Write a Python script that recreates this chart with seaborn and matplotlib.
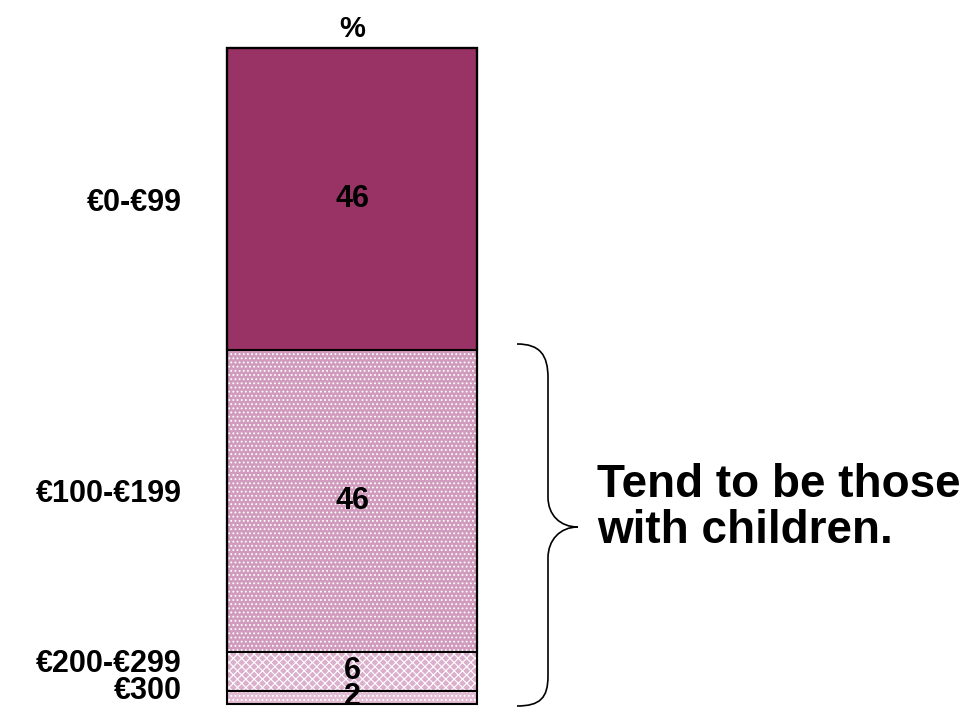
import matplotlib
matplotlib.use("Agg")
import matplotlib.pyplot as plt
from matplotlib.path import Path
from matplotlib.patches import PathPatch, Rectangle
from matplotlib.transforms import ScaledTranslation
import pandas as pd
import seaborn as sns

# Spend bands (top to bottom) and share of respondents, %
bands = ["€0-€99", "€100-€199", "€200-€299", "€300"]
shares = [46, 46, 6, 2]
face_colors = ["#993366", "#d09bbd", "#dbb0cc", "#e2bcd3"]
hatches = [None, "....", "xxxx", "...."]
label_nudge_px = [-4, 7, 7, 6]
header = "%"
note_lines = ["Tend to be those", "with children."]

sns.set_style("white")
plt.rcParams["font.family"] = ["Liberation Sans", "DejaVu Sans"]
plt.rcParams["font.weight"] = "bold"
plt.rcParams["text.color"] = "black"
plt.rcParams["axes.titlecolor"] = "black"
plt.rcParams["hatch.linewidth"] = 0.8

# Running totals: each band is drawn from 0 down to its cumulative share,
# the widest first so that the upper bands cover the lower ones.
cum = []
total = 0
for s in shares:
    total += s
    cum.append(total)
mids = [c - s / 2 for c, s in zip(cum, shares)]

df = pd.DataFrame({"col": [""] * len(bands), "band": bands, "cum": cum})
order = bands[::-1]

W, H = 968, 709
fig = plt.figure(figsize=(W / 100, H / 100), dpi=100)
ax = fig.add_axes([227 / W, 5 / H, 250 / W, 656 / H])

sns.barplot(data=df, x="col", y="cum", hue="band", hue_order=order,
            palette=dict(zip(bands, face_colors)), dodge=False, width=1,
            saturation=1, legend=False, ax=ax, linewidth=0)

ax.set_ylim(100, 0)
ax.set_xlim(-0.5, 0.5)

style = {b: (fc, h) for b, fc, h in zip(bands, face_colors, hatches)}
for patch, band in zip(ax.patches, order):
    fc, h = style[band]
    patch.set_facecolor(fc)
    if h:
        patch.set_hatch(h)
        patch.set_edgecolor("white")
    else:
        patch.set_edgecolor(fc)
    patch.set_linewidth(0)
    outline = Rectangle(patch.get_xy(), patch.get_width(), patch.get_height(),
                        fill=False, edgecolor="black", linewidth=1.5,
                        clip_on=False, zorder=3)
    ax.add_patch(outline)

for v, m in zip(shares, mids):
    ax.text(0, m, f"{v}", ha="center", va="center", fontsize=22,
            fontweight="bold", color="black", zorder=4, clip_on=False)

for b, m, nudge in zip(bands, mids, label_nudge_px):
    ax.text(-0.5, m, b, ha="right", va="center", fontsize=22,
            fontweight="bold", color="black",
            transform=ax.transData + ScaledTranslation(-45 / 100, nudge / 100,
                                                       fig.dpi_scale_trans))

ax.set_title(header, fontsize=21, fontweight="bold", pad=8, color="black")
ax.set_xlabel("")
ax.set_ylabel("")
ax.set_xticks([])
ax.set_yticks([])
for sp in ax.spines.values():
    sp.set_visible(False)

# Curly brace grouping the three higher bands
def fx(px):
    return px / W

def fy(py):
    return 1 - py / H

verts = [
    (517, 344), (540, 344), (548, 355), (548, 378),
    (548, 497),
    (548, 515), (560, 527), (578, 527),
    (560, 527), (548, 540), (548, 558),
    (548, 676),
    (548, 698), (540, 706), (517, 706),
]
codes = [Path.MOVETO, Path.CURVE4, Path.CURVE4, Path.CURVE4,
         Path.LINETO,
         Path.CURVE4, Path.CURVE4, Path.CURVE4,
         Path.CURVE4, Path.CURVE4, Path.CURVE4,
         Path.LINETO,
         Path.CURVE4, Path.CURVE4, Path.CURVE4]
brace = PathPatch(Path([(fx(x), fy(y)) for x, y in verts], codes),
                  transform=fig.transFigure, fill=False,
                  edgecolor="black", linewidth=1.2)
fig.patches.append(brace)

fig.text(597 / W, fy(497), note_lines[0], ha="left", va="baseline",
         fontsize=33, fontweight="bold", color="black")
fig.text(597 / W, fy(543), note_lines[1], ha="left", va="baseline",
         fontsize=33, fontweight="bold", color="black")

fig.savefig("out.png", dpi=100)
